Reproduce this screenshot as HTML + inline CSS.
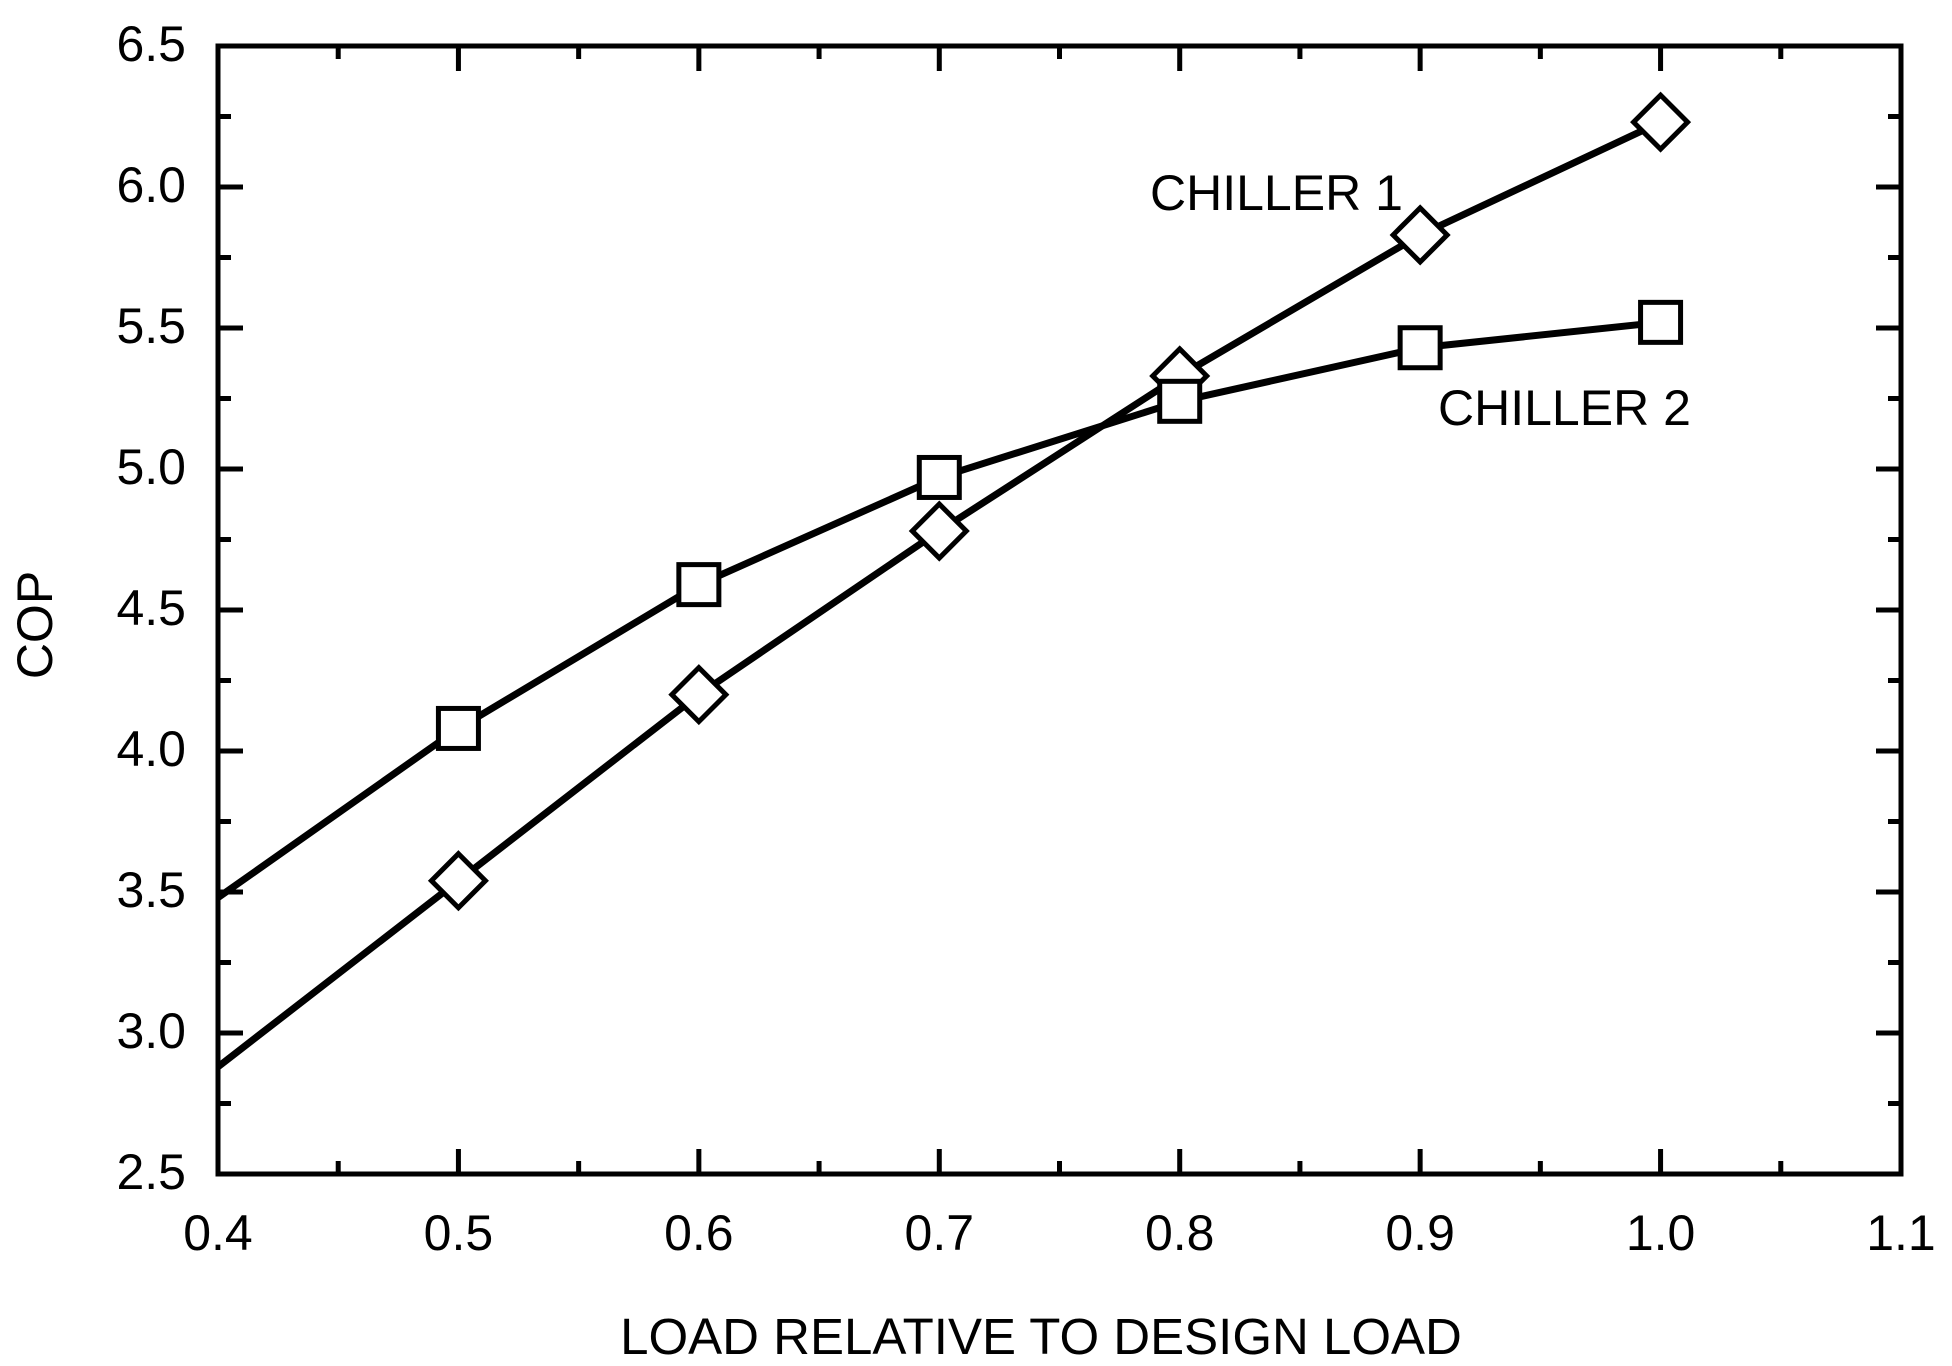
<!DOCTYPE html>
<html><head><meta charset="utf-8"><style>
html,body{margin:0;padding:0;background:#fff;}
svg{display:block;font-family:"Liberation Sans",Arial,sans-serif;}
</style></head><body>
<svg id="chart" width="1952" height="1366" viewBox="0 0 1952 1366" xmlns="http://www.w3.org/2000/svg">
<g id="axes"></g>
<g id="series"></g>
<text x="0" y="0" transform="translate(52,625) rotate(-90)" text-anchor="middle" font-size="50">COP</text>
<text x="1041" y="1354" text-anchor="middle" font-size="51">LOAD RELATIVE TO DESIGN LOAD</text>
<text x="1150" y="210" font-size="50">CHILLER 1</text>
<text x="1438" y="425" font-size="50">CHILLER 2</text>
</svg>
<script>
const xTicks = [0.4,0.5,0.6,0.7,0.8,0.9,1.0,1.1];
const xTickLabels = ["0.4","0.5","0.6","0.7","0.8","0.9","1.0","1.1"];
const yTicks = [2.5,3.0,3.5,4.0,4.5,5.0,5.5,6.0,6.5];
const yTickLabels = ["2.5","3.0","3.5","4.0","4.5","5.0","5.5","6.0","6.5"];
const chiller1Load = [0.4,0.5,0.6,0.7,0.8,0.9,1.0];
const chiller1Cop = [2.88,3.54,4.20,4.78,5.33,5.83,6.23];
const chiller2Load = [0.4,0.5,0.6,0.7,0.8,0.9,1.0];
const chiller2Cop = [3.48,4.08,4.59,4.97,5.24,5.43,5.52];

const L=218,R=1901,T=46,B=1174;
const X0=0.4,X1=1.1,Y0=2.5,Y1=6.5;
const sx=v=>L+(v-X0)/(X1-X0)*(R-L);
const sy=v=>B-(v-Y0)/(Y1-Y0)*(B-T);
const NS="http://www.w3.org/2000/svg";
function mk(tag,attrs,parent){const e=document.createElementNS(NS,tag);for(const k in attrs)e.setAttribute(k,attrs[k]);parent.appendChild(e);return e;}
const axes=document.getElementById('axes');
const frame=mk('rect',{x:L,y:T,width:R-L,height:B-T,fill:'none',stroke:'#000','stroke-width':5},axes);


for(let i=0;i<xTicks.length;i++){
  const x=sx(xTicks[i]);
  const t=mk('path',{d:`M${x},${B}v-25M${x},${T}v25`,stroke:'#000','stroke-width':5},axes);
  
  
  const lb=mk('text',{x:x,y:1250,'text-anchor':'middle','font-size':50},axes);
  lb.textContent=xTickLabels[i];
  
  
  if(i<xTicks.length-1){
    const xm=sx((xTicks[i]+xTicks[i+1])/2);
    const m=mk('path',{d:`M${xm},${B}v-13M${xm},${T}v13`,stroke:'#000','stroke-width':5},axes);
    
    
  }
}
for(let i=0;i<yTicks.length;i++){
  const y=sy(yTicks[i]);
  const t=mk('path',{d:`M${L},${y}h25M${R},${y}h-25`,stroke:'#000','stroke-width':5},axes);
  
  
  const lb=mk('text',{x:186,y:y+15,'text-anchor':'end','font-size':50},axes);
  lb.textContent=yTickLabels[i];
  
  
  if(i<yTicks.length-1){
    const ym=sy((yTicks[i]+yTicks[i+1])/2);
    const m=mk('path',{d:`M${L},${ym}h13M${R},${ym}h-13`,stroke:'#000','stroke-width':5},axes);
    
    
  }
}
const series=document.getElementById('series');
function line(xs,ys,name){
  const p=mk('polyline',{points:xs.map((v,i)=>sx(v)+','+sy(ys[i])).join(' '),fill:'none',stroke:'#000','stroke-width':7,'stroke-linejoin':'round'},series);
  
  
}
line(chiller1Load,chiller1Cop,'chiller-1-line');
line(chiller2Load,chiller2Cop,'chiller-2-line');
for(let i=1;i<chiller1Load.length;i++){
  const x=sx(chiller1Load[i]),y=sy(chiller1Cop[i]),r=27;
  const d=mk('polygon',{points:`${x},${y-r} ${x+r},${y} ${x},${y+r} ${x-r},${y}`,fill:'#fff',stroke:'#000','stroke-width':5},series);
  
  
}
for(let i=1;i<chiller2Load.length;i++){
  const x=sx(chiller2Load[i]),y=sy(chiller2Cop[i]),h=20;
  const s=mk('rect',{x:x-h,y:y-h,width:2*h,height:2*h,fill:'#fff',stroke:'#000','stroke-width':5},series);
  
  
}
</script>
</body></html>
